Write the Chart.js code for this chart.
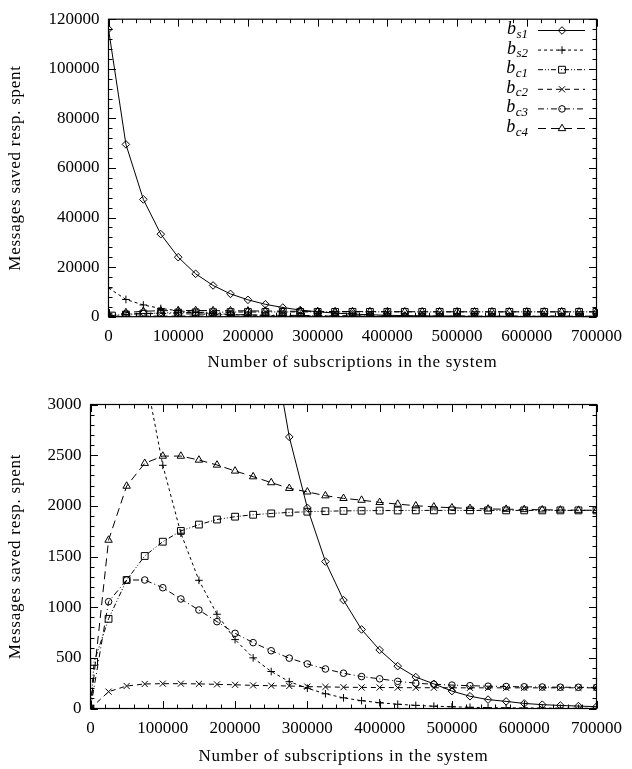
<!DOCTYPE html>
<html><head><meta charset="utf-8">
<script src="https://cdn.jsdelivr.net/npm/chart.js@4.4.0/dist/chart.umd.min.js"></script>
<style>
html,body{margin:0;padding:0;background:#fff;width:632px;height:769px;overflow:hidden}
canvas{position:absolute;left:0;display:block}
#c1{top:0}
#c2{top:385px}
</style></head><body>
<canvas id="c1" width="632" height="385"></canvas>
<canvas id="c2" width="632" height="384"></canvas>
<script>
// ---------------- data ----------------
const xValues = [0,25000,50000,75000,100000,125000,150000,175000,200000,225000,250000,275000,300000,325000,350000,375000,400000,425000,450000,475000,500000,525000,550000,575000,600000,625000,650000,675000,700000];
const bs1 = [116000,69500,47300,33300,24000,17300,12600,9200,6800,5000,3700,2680,1980,1450,1070,780,578,418,310,243,172,121,88,70,50,38,30,24,18];
const bs2 = [11600,6950,4730,3330,2400,1730,1265,930,680,500,365,265,200,145,105,77,57,42,31,23,17,12,9,7,5,4,3,2,2];
const bc1 = [0,885,1268,1505,1646,1752,1815,1865,1893,1912,1925,1935,1942,1947,1950,1952,1953,1954,1955,1955,1955,1955,1955,1955,1955,1955,1955,1955,1955];
const bc1EarlyX = [5000];
const bc1EarlyY = [460];
const bc2 = [0,166,222,242,245,245,243,238,234,228,225,222,216,213,210,208,207,206,205,205,204,204,204,204,204,204,204,204,204];
const bc3 = [0,1054,1268,1268,1192,1081,972,857,742,650,570,497,440,390,348,315,293,268,250,239,231,225,220,217,214,212,210,209,208];
const bc4 = [0,1662,2195,2420,2491,2491,2452,2403,2344,2288,2229,2173,2138,2100,2074,2056,2034,2017,2001,1990,1981,1975,1969,1967,1964,1961,1959,1957,1956];

const seriesData = [bs1, bs2, bc1, bc2, bc3, bc4];
const legendBase = ['b','b','b','b','b','b'];
const legendSub = ['s1','s2','c1','c2','c3','c4'];
const xTitle = 'Number of subscriptions in the system';
const yTitle = 'Messages saved resp. spent';
const xTicksStep = 100000;
const topYMax = 120000, topYStep = 20000;
const botYMax = 3000, botYStep = 500;

// ---------------- styles ----------------
const pointStyles = ['rectRot','cross','rect','crossRot','circle','triangle'];
const dashes = [[],[3,3],[5,2,1,2,1,2],[5,4],[6,3,1,3],[8,5]];
const radii = [3.8,3.8,4.8,4.3,3.3,4.3];
const FONT = '"Liberation Serif","Times New Roman",serif';

function buildDatasets(){
  return seriesData.map((arr,i)=>{
    let data = xValues.map((x,k)=>({x:x, y:arr[k]}));
    if (i === 2) {
      const extra = bc1EarlyX.map((x,k)=>({x:x, y:bc1EarlyY[k]}));
      data = [data[0]].concat(extra, data.slice(1));
    }
    return {
      label: legendBase[i] + '_' + legendSub[i],
      data: data,
      borderColor: '#000',
      backgroundColor: 'rgba(0,0,0,0)',
      borderWidth: 1,
      borderDash: dashes[i],
      pointStyle: pointStyles[i],
      pointRadius: radii[i],
      pointBorderWidth: 1,
      pointBorderColor: '#000',
      pointBackgroundColor: 'rgba(0,0,0,0)',
      tension: 0,
      fill: false
    };
  });
}

function framePlugin(minorX, minorY){
  return {
    id: 'frameTicks',
    beforeDraw(chart){ chart.ctx.letterSpacing = '0.75px'; },
    beforeDatasetsDraw(chart){
      const ctx = chart.ctx;
      ctx.letterSpacing = '0px';
      const a = chart.chartArea, xs = chart.scales.x, ys = chart.scales.y;
      ctx.save();
      ctx.strokeStyle = '#000';
      ctx.lineWidth = 1.2;
      ctx.setLineDash([]);
      ctx.strokeRect(a.left, a.top, a.right - a.left, a.bottom - a.top);
      ctx.lineWidth = 1;
      ctx.beginPath();
      for (let v = xs.min; v <= xs.max + 1e-6; v += minorX) {
        const p = Math.round(xs.getPixelForValue(v)) + 0.5;
        const L = (Math.abs(v % xTicksStep) < 1e-6) ? 7.5 : 4;
        ctx.moveTo(p, a.bottom); ctx.lineTo(p, a.bottom - L);
        ctx.moveTo(p, a.top); ctx.lineTo(p, a.top + L);
      }
      const majorY = ys.options.ticks.stepSize;
      for (let v = ys.min; v <= ys.max + 1e-6; v += minorY) {
        const p = Math.round(ys.getPixelForValue(v)) + 0.5;
        const L = (Math.abs(v % majorY) < 1e-6) ? 7.5 : 4;
        ctx.moveTo(a.left, p); ctx.lineTo(a.left + L, p);
        ctx.moveTo(a.right, p); ctx.lineTo(a.right - L, p);
      }
      ctx.stroke();
      ctx.restore();
    }
  };
}

const legendPlugin = {
  id: 'innerLegend',
  afterDatasetsDraw(chart){
    const ctx = chart.ctx;
    ctx.save();
    ctx.letterSpacing = '0px';
    chart.data.datasets.forEach((ds,i)=>{
      const y = 30 + 19.6*i;
      const [base, sub] = ds.label.split('_');
      ctx.fillStyle = '#000';
      ctx.textBaseline = 'alphabetic';
      ctx.font = 'italic 18px ' + FONT;
      const bw = ctx.measureText(base).width;
      ctx.font = 'italic 13px ' + FONT;
      const sw = ctx.measureText(sub).width;
      const right = 528;
      const sx = right - sw;
      const bx = sx - bw - 0.5;
      ctx.font = 'italic 18px ' + FONT;
      ctx.textAlign = 'left';
      ctx.fillText(base, bx, y + 4);
      ctx.font = 'italic 13px ' + FONT;
      ctx.fillText(sub, sx, y + 7.5);
      ctx.strokeStyle = '#000';
      ctx.lineWidth = 1;
      ctx.setLineDash(ds.borderDash || []);
      ctx.beginPath();
      ctx.moveTo(538, y + 0.5); ctx.lineTo(585, y + 0.5);
      ctx.stroke();
      ctx.setLineDash([]);
      if (Chart.helpers && Chart.helpers.drawPoint) {
        ctx.fillStyle = 'rgba(0,0,0,0)';
        Chart.helpers.drawPoint(ctx, {pointStyle: ds.pointStyle, radius: ds.pointRadius, borderWidth: 1, rotation: 0}, 562, y + 0.5);
      }
    });
    ctx.restore();
  }
};

function makeOptions(yMax, yStep, yw, xh, padTop, titleBottomPad){
  const tickFont = {family: FONT, size: 17};
  return {
    responsive: false,
    animation: false,
    events: [],
    layout: {padding: {top: padTop, right: 28, left: 0, bottom: 0}},
    plugins: {legend: {display: false}, tooltip: {enabled: false}},
    scales: {
      x: {
        type: 'linear', min: 0, max: 700000,
        afterFit: s => { s.height = xh; },
        grid: {display: false, drawTicks: false},
        border: {display: false},
        ticks: {stepSize: xTicksStep, autoSkip: false, maxRotation: 0, padding: 10, color: '#000', font: tickFont, z: 1,
                callback: v => String(v)},
        title: {display: true, text: xTitle, color: '#000', font: {family: FONT, size: 17}, padding: {top: 0, bottom: titleBottomPad}}
      },
      y: {
        type: 'linear', min: 0, max: yMax,
        afterFit: s => { s.width = yw; },
        grid: {display: false, drawTicks: false},
        border: {display: false},
        ticks: {stepSize: yStep, autoSkip: false, padding: 9, color: '#000', font: tickFont, z: 1,
                callback: v => String(v)},
        title: {display: true, text: yTitle, color: '#000', font: {family: FONT, size: 17}, padding: {top: 5, bottom: 0}}
      }
    }
  };
}

new Chart(document.getElementById('c1'), {
  type: 'line',
  data: {datasets: buildDatasets()},
  options: makeOptions(topYMax, topYStep, 108.5, 68.3, 12, 12),
  plugins: [framePlugin(20000, 4000), legendPlugin]
});

new Chart(document.getElementById('c2'), {
  type: 'line',
  data: {datasets: buildDatasets()},
  options: makeOptions(botYMax, botYStep, 90.5, 60.5, 19.5, 2),
  plugins: [framePlugin(20000, 100)]
});
</script>
</body></html>
